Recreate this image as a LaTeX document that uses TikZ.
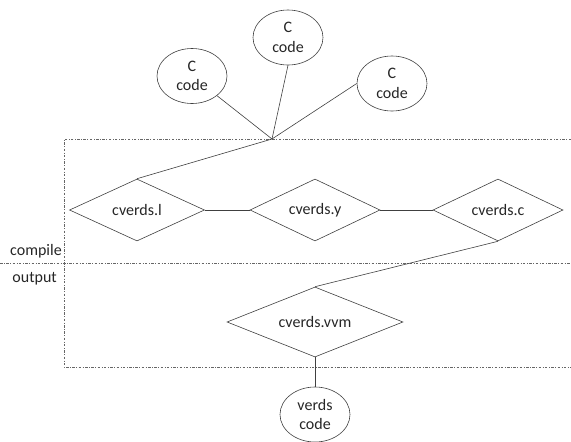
\documentclass[tikz,border=0pt]{standalone}
\usepackage{fontspec}
\setmainfont{Carlito}
\usetikzlibrary{shapes.geometric,positioning}
\begin{document}
\begin{tikzpicture}[x=1pt,y=-1pt,font=\fontsize{16}{19.5}\selectfont,text=black!85]
    \useasboundingbox (0,0) rectangle (571,442);
    % dashed frame
    \begin{scope}[draw=black!60,line width=0.6pt,dash pattern=on 2.5pt off 1.5pt on 0.8pt off 1.5pt]
      \draw (571,139) -- (64,139) -- (64,367) -- (571,367);
      \draw (0,263) -- (571,263);
    \end{scope}
    \begin{scope}[every node/.style={ellipse,draw=black!75,line width=0.6pt,minimum width=70pt,minimum height=55pt,inner sep=0pt,align=center}]
      \node (c1) at (192,76) {C\\code};
      \node (c2) at (288,37.5) {C\\code};
      \node (c3) at (392,83.5) {C\\code};
      \node (vc) at (315,414.5) {verds\\code};
    \end{scope}
    \begin{scope}[every node/.style={diamond,draw=black!75,line width=0.6pt,aspect=2,inner sep=0pt,minimum width=130pt,minimum height=62pt}]
      \node (l) at (137,210) [minimum width=135pt] {cverds.l};
      \node (y) at (315,210) {cverds.y};
      \node (cc) at (498,210) {cverds.c};
      \node (vvm) at (315,322) [minimum width=176pt,minimum height=70pt] {cverds.vvm};
    \end{scope}
    \coordinate (j) at (272,139);
    \node (cmp) [anchor=east,inner sep=0pt] at (62,251) {compile};
    \node (out) [anchor=east,inner sep=0pt] at (57,279) {output};
    \begin{scope}[every edge/.style={draw=black!75,line width=0.6pt}]
      \path (c1) edge (j)
            (c2.south) edge (j)
            (c3.west) edge (j)
            (j) edge (l.north)
            (l) edge (y)
            (y) edge (cc)
            (cc.south) edge (vvm.north)
            (vvm) edge (vc);
    \end{scope}
\end{tikzpicture}
\end{document}
